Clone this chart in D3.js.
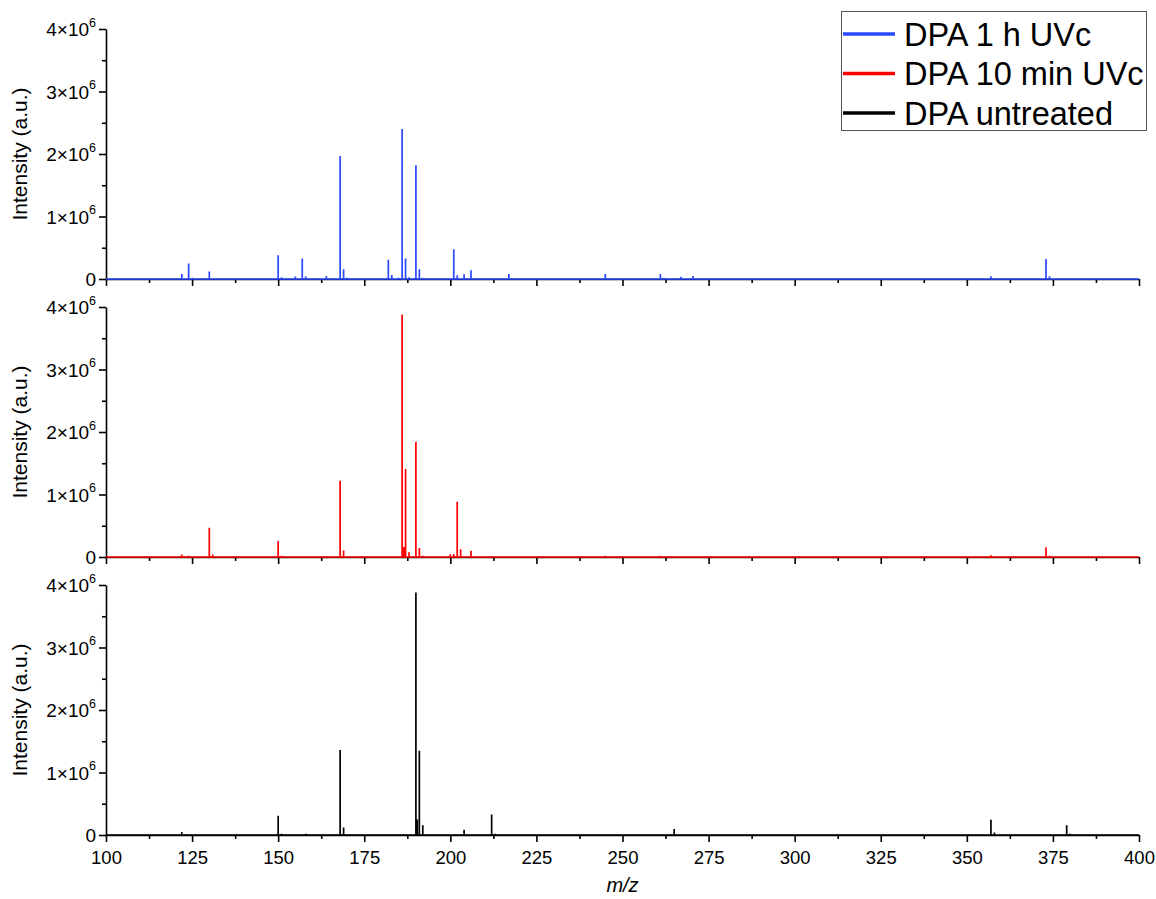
<!DOCTYPE html>
<html>
<head>
<meta charset="utf-8">
<script src="https://cdn.jsdelivr.net/npm/d3@7"></script>
<style>
  body { margin: 0; background: #fff; }
  svg { font-family: "Liberation Sans", Arial, sans-serif; }
</style>
</head>
<body>
<svg id="chart" width="1156" height="899"></svg>
<script>
// peak lists (m/z, intensity in units of 10^6)
var seriesNames = ["DPA 1 h UVc", "DPA 10 min UVc", "DPA untreated"];
var seriesColors = ["#2a48ff", "#ff0000", "#000000"];

var uv1hMz = [122, 124, 125, 130, 134, 139, 150, 151, 155, 157, 158, 164, 168, 169, 170,
  182, 183, 185, 186, 187, 188, 190, 191, 192, 201, 202, 204, 206, 217, 227, 229, 245,
  261, 262, 267, 270.5, 278, 283, 357, 373, 374];
var uv1hInt = [0.08, 0.25, 0.02, 0.12, 0.01, 0.01, 0.38, 0.03, 0.04, 0.33, 0.04, 0.05, 1.97, 0.155, 0.02,
  0.31, 0.065, 0.02, 2.40, 0.33, 0.03, 1.82, 0.155, 0.02, 0.475, 0.06, 0.075, 0.14, 0.08, 0.01, 0.01, 0.08,
  0.08, 0.02, 0.035, 0.05, 0.01, 0.01, 0.045, 0.32, 0.045];

var uv10Mz = [122, 124, 130, 131, 141, 150, 151, 157, 168, 169, 174, 184.5, 186, 186.5, 187, 188,
  190, 191, 192, 200, 201, 202, 203, 206, 217, 227, 245, 261, 267, 270.5, 357, 373, 374];
var uv10Int = [0.04, 0.02, 0.47, 0.04, 0.01, 0.255, 0.02, 0.01, 1.22, 0.105, 0.01, 0.01, 3.88, 0.16, 1.41, 0.075,
  1.845, 0.145, 0.02, 0.045, 0.05, 0.885, 0.125, 0.1, 0.01, 0.01, 0.02, 0.02, 0.01, 0.01, 0.03, 0.155, 0.02];

var untrMz = [122, 150, 151, 158, 168, 169, 182, 190, 190.4, 191, 192, 204, 212, 213, 234,
  265, 357, 358, 379, 380];
var untrInt = [0.05, 0.31, 0.02, 0.02, 1.36, 0.12, 0.01, 3.88, 0.25, 1.35, 0.155, 0.085, 0.33, 0.02, 0.01,
  0.095, 0.245, 0.04, 0.155, 0.02];

var xTicks = [100, 125, 150, 175, 200, 225, 250, 275, 300, 325, 350, 375, 400];
var yTicks = [0, 1, 2, 3, 4];

var panels = [
  { mz: uv1hMz, val: uv1hInt },
  { mz: uv10Mz, val: uv10Int },
  { mz: untrMz, val: untrInt }
];

var svg = d3.select("#chart");
var left = 106, right = 1139, panelH = 250, baseYs = [279, 557, 835];

var x = d3.scaleLinear().domain([100, 400]).range([left, right]);
var minorX = d3.range(112.5, 400, 25);
var minorY = [0.5, 1.5, 2.5, 3.5];

panels.forEach(function(p, i) {
  var y = d3.scaleLinear().domain([0, 4]).range([baseYs[i], baseYs[i] - panelH]);
  var g = svg.append("g");

  // minor ticks
  g.append("g")
    .attr("transform", "translate(0," + baseYs[i] + ")")
    .call(d3.axisBottom(x).tickValues(minorX).tickSize(4).tickFormat(""))
    .call(function(a) { a.select(".domain").remove(); });
  g.append("g")
    .attr("transform", "translate(" + left + ",0)")
    .call(d3.axisLeft(y).tickValues(minorY).tickSize(4).tickFormat(""))
    .call(function(a) { a.select(".domain").remove(); });

  var xa = g.append("g")
    .attr("transform", "translate(0," + baseYs[i] + ")")
    .call(d3.axisBottom(x).tickValues(xTicks).tickSize(7).tickSizeOuter(0)
      .tickFormat(i == 2 ? d3.format("d") : ""));
  xa.selectAll("text").attr("font-size", 18.5).attr("dy", 0).attr("y", 29)
    .attr("font-family", "Liberation Sans, Arial, sans-serif").attr("fill", "#000");

  var ya = g.append("g")
    .attr("transform", "translate(" + left + ",0)")
    .call(d3.axisLeft(y).tickValues(yTicks).tickSize(7).tickSizeOuter(0).tickFormat(""));
  ya.selectAll(".tick").each(function(d) {
    var t = d3.select(this).append("text")
      .attr("x", -10).attr("dy", "0.36em")
      .attr("text-anchor", "end").attr("font-size", 19).attr("fill", "#000")
      .attr("font-family", "Liberation Sans, Arial, sans-serif");
    if (d == 0) {
      t.text("0");
    } else {
      t.append("tspan").text(d + "\u00d710");
      t.append("tspan").attr("font-size", 12.5).attr("dy", "-0.75em").text("6");
    }
  });
  g.selectAll(".domain, .tick line").attr("stroke", "#000").attr("stroke-width", 1.6);

  svg.append("text")
    .attr("transform", "translate(27," + (baseYs[i] - panelH / 2) + ") rotate(-90)")
    .attr("text-anchor", "middle").attr("font-size", 21)
    .text("Intensity (a.u.)");

  // spectrum as one stick line
  var pts = [[100, 0]];
  p.mz.forEach(function(m, k) {
    pts.push([m, 0], [m, p.val[k]], [m, 0]);
  });
  pts.push([400, 0]);
  var line = d3.line().x(function(d) { return x(d[0]); }).y(function(d) { return y(d[1]); });
  svg.append("path")
    .datum(pts)
    .attr("d", line)
    .attr("fill", "none")
    .attr("stroke", seriesColors[i])
    .attr("stroke-width", 1.7)
    .attr("stroke-linejoin", "miter");
});

svg.append("text")
  .attr("x", x(250)).attr("y", 892)
  .attr("text-anchor", "middle").attr("font-size", 20).attr("font-style", "italic")
  .text("m/z");

// legend
var lg = svg.append("g");
lg.append("rect")
  .attr("x", 841.5).attr("y", 11.5).attr("width", 305).attr("height", 119)
  .attr("fill", "#fff").attr("stroke", "#555").attr("stroke-width", 1);
seriesNames.forEach(function(name, i) {
  var cy = 34 + i * 39.5;
  lg.append("line")
    .attr("x1", 843).attr("x2", 895).attr("y1", cy).attr("y2", cy)
    .attr("stroke", seriesColors[i]).attr("stroke-width", 3.5);
  lg.append("text")
    .attr("x", 904).attr("y", cy).attr("dy", "0.36em")
    .attr("font-size", 32.5).attr("fill", "#000")
    .text(name);
});
</script>
</body>
</html>
